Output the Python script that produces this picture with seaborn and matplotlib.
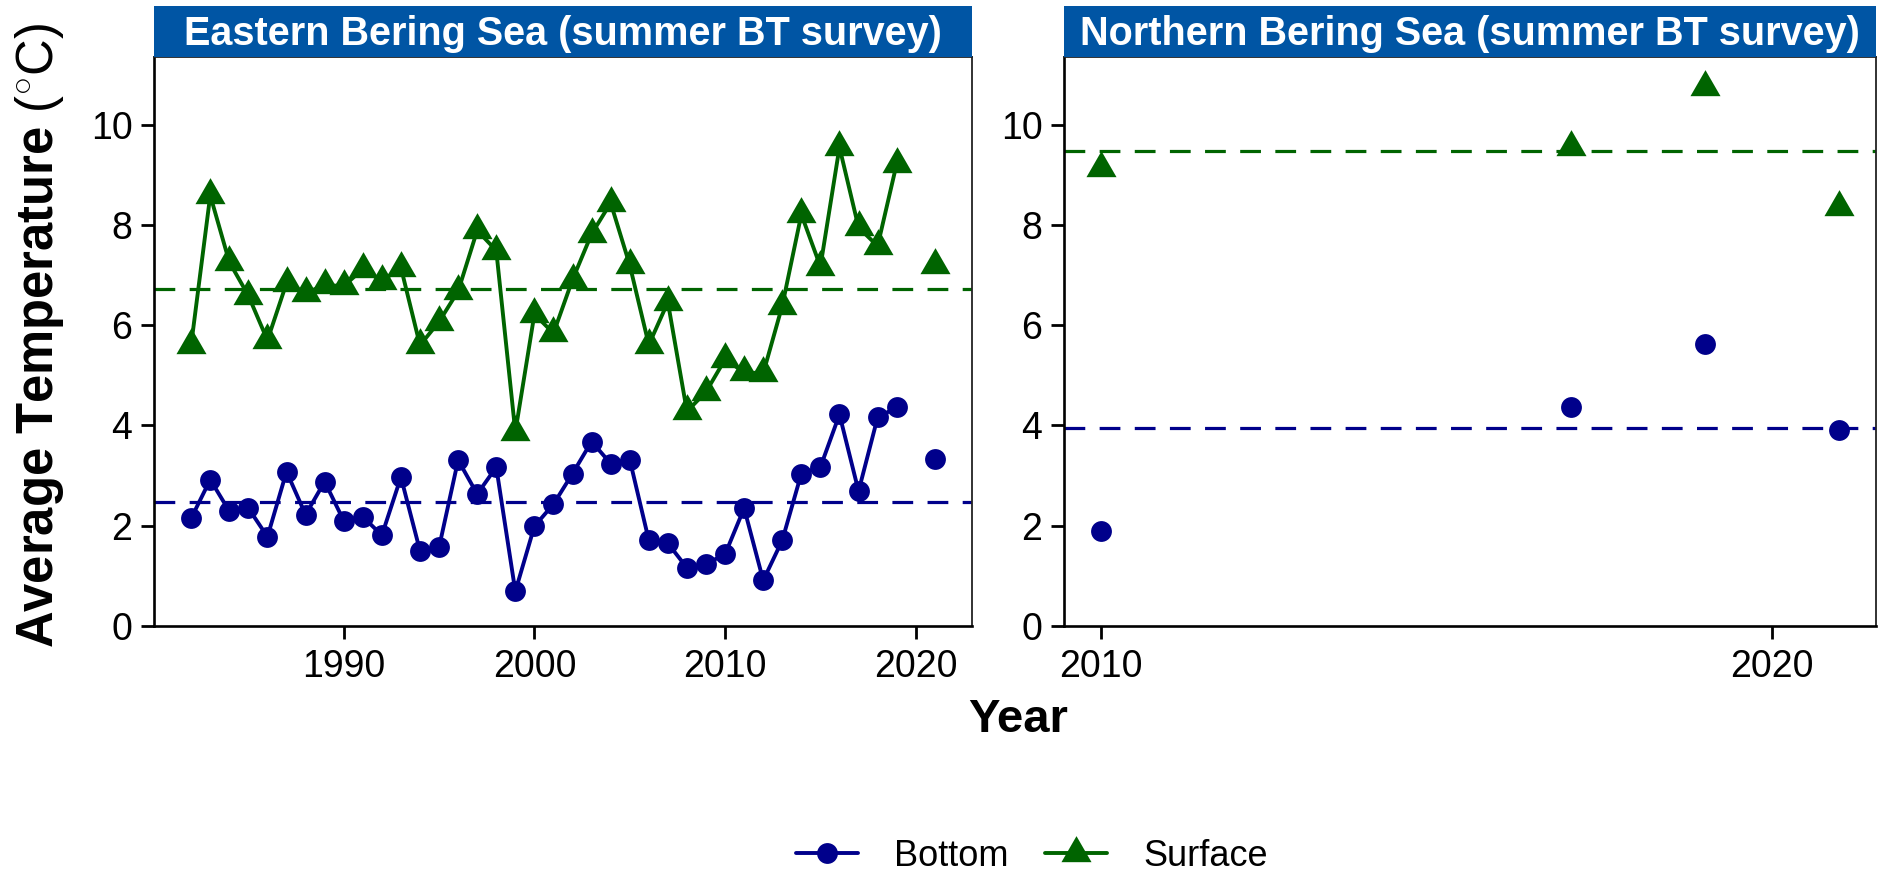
import numpy as np
import pandas as pd
import matplotlib
matplotlib.use("Agg")
import matplotlib.pyplot as plt
from matplotlib.lines import Line2D
import seaborn as sns

# ---------------- data ----------------
ebs_years = [1982, 1983, 1984, 1985, 1986, 1987, 1988, 1989, 1990, 1991,
             1992, 1993, 1994, 1995, 1996, 1997, 1998, 1999, 2000, 2001,
             2002, 2003, 2004, 2005, 2006, 2007, 2008, 2009, 2010, 2011,
             2012, 2013, 2014, 2015, 2016, 2017, 2018, 2019]
ebs_bottom = [2.15, 2.92, 2.29, 2.35, 1.78, 3.08, 2.22, 2.88, 2.10, 2.18,
              1.81, 2.97, 1.50, 1.57, 3.31, 2.63, 3.17, 0.69, 1.99, 2.43,
              3.04, 3.68, 3.24, 3.32, 1.71, 1.65, 1.16, 1.24, 1.43, 2.35,
              0.91, 1.71, 3.04, 3.17, 4.22, 2.69, 4.16, 4.36]
ebs_surface = [5.61, 8.59, 7.26, 6.59, 5.70, 6.84, 6.64, 6.80, 6.78, 7.12,
               6.88, 7.15, 5.60, 6.07, 6.68, 7.89, 7.49, 3.87, 6.22, 5.84,
               6.91, 7.82, 8.44, 7.20, 5.61, 6.46, 4.28, 4.67, 5.32, 5.06,
               5.04, 6.39, 8.21, 7.17, 9.55, 7.95, 7.58, 9.22]
# isolated point after the 2020 gap
ebs_extra_year = [2021]
ebs_extra_bottom = [3.33]
ebs_extra_surface = [7.20]
ebs_means = {"Bottom": 2.47, "Surface": 6.73}

nbs_years = [2010, 2017, 2019, 2021]
nbs_bottom = [1.89, 4.36, 5.62, 3.90]
nbs_surface = [9.14, 9.55, 10.75, 8.35]
nbs_means = {"Bottom": 3.95, "Surface": 9.47}

panel_titles = ["Eastern Bering Sea (summer BT survey)",
                "Northern Bering Sea (summer BT survey)"]
series_names = ["Bottom", "Surface"]
y_ticks = [0, 2, 4, 6, 8, 10]
ebs_xticks = [1990, 2000, 2010, 2020]
nbs_xticks = [2010, 2020]

# ---------------- style ----------------
sns.set_style("white")
plt.rcParams["font.family"] = ["Liberation Sans", "DejaVu Sans"]
plt.rcParams["mathtext.fontset"] = "custom"
plt.rcParams["mathtext.rm"] = "Liberation Sans"
plt.rcParams["mathtext.it"] = "Liberation Sans:italic"
plt.rcParams["mathtext.bf"] = "Liberation Sans:bold"
plt.rcParams["text.color"] = "black"
plt.rcParams["axes.labelcolor"] = "black"
plt.rcParams["xtick.color"] = "black"
plt.rcParams["ytick.color"] = "black"

colors = {"Bottom": "#00008B", "Surface": "#006400"}
markers = {"Bottom": "o", "Surface": (3, 0, 0)}
msizes = {"Bottom": 15, "Surface": 25}
LW = 2.8
strip_color = "#0055A4"
W, H = 1879, 874
TICK_FS = 27

fig = plt.figure(figsize=(W / 100, H / 100), dpi=100)

ax_top, ax_bot = 57, 626
panels = [
    dict(x0=154, x1=972, xlim=(1980.05, 2022.95), xticks=ebs_xticks),
    dict(x0=1064, x1=1876, xlim=(2009.45, 2021.55), xticks=nbs_xticks),
]
axes = []
for p in panels:
    ax = fig.add_axes([p["x0"] / W, 1 - ax_bot / H,
                       (p["x1"] - p["x0"]) / W, (ax_bot - ax_top) / H])
    axes.append(ax)

ax1, ax2 = axes

ebs_df = pd.DataFrame({"Year": ebs_years * 2,
                       "Temp": ebs_bottom + ebs_surface,
                       "Series": ["Bottom"] * len(ebs_years) + ["Surface"] * len(ebs_years)})
ebs_extra = pd.DataFrame({"Year": ebs_extra_year * 2,
                          "Temp": ebs_extra_bottom + ebs_extra_surface,
                          "Series": ["Bottom", "Surface"]})
nbs_df = pd.DataFrame({"Year": nbs_years * 2,
                       "Temp": nbs_bottom + nbs_surface,
                       "Series": ["Bottom"] * len(nbs_years) + ["Surface"] * len(nbs_years)})

dash = (0, (6.5, 4.5))
for ax, means in [(ax1, ebs_means), (ax2, nbs_means)]:
    for s in series_names:
        ax.axhline(means[s], color=colors[s], lw=2.3, ls=dash, zorder=1)

for s in series_names:
    sub = ebs_df[ebs_df.Series == s]
    sns.lineplot(data=sub, x="Year", y="Temp", ax=ax1, color=colors[s],
                 linewidth=LW, marker=markers[s], markersize=msizes[s],
                 markeredgewidth=0, legend=False, zorder=3)
    sub2 = ebs_extra[ebs_extra.Series == s]
    ax1.plot(sub2.Year, sub2.Temp, ls="none", marker=markers[s],
             markersize=msizes[s], color=colors[s], markeredgewidth=0, zorder=3)
    sub3 = nbs_df[nbs_df.Series == s]
    ax2.plot(sub3.Year, sub3.Temp, ls="none", marker=markers[s],
             markersize=msizes[s], color=colors[s], markeredgewidth=0, zorder=3)

for ax, p in zip(axes, panels):
    ax.set_xlim(*p["xlim"])
    ax.set_ylim(0, 11.35)
    ax.set_xticks(p["xticks"])
    ax.set_xticklabels([str(t) for t in p["xticks"]])
    ax.set_yticks(y_ticks)
    ax.set_yticklabels([str(t) for t in y_ticks])
    ax.set_xlabel("")
    ax.set_ylabel("")
    ax.tick_params(axis="both", which="major", direction="out", length=9.5,
                   width=2.0, color="black", labelsize=TICK_FS, labelcolor="black",
                   bottom=True, left=True, top=False, right=False)
    ax.tick_params(axis="x", pad=7)
    ax.tick_params(axis="y", pad=6)
    for side in ["left", "bottom"]:
        ax.spines[side].set_linewidth(1.9)
        ax.spines[side].set_color("black")
    for side in ["top", "right"]:
        ax.spines[side].set_linewidth(1.3)
        ax.spines[side].set_color("#222222")
        ax.spines[side].set_visible(True)
    ax.set_facecolor("white")
    ax.grid(False)

# strips
for p, title in zip(panels, panel_titles):
    sax = fig.add_axes([p["x0"] / W, 1 - ax_top / H, (p["x1"] - p["x0"]) / W, 51 / H])
    sax.set_facecolor(strip_color)
    sax.set_xticks([])
    sax.set_yticks([])
    for sp in sax.spines.values():
        sp.set_visible(False)
    sax.text(0.5, 0.45, title, transform=sax.transAxes, ha="center", va="center",
             color="white", fontsize=28.5, fontweight="bold")

# axis titles
fig.text(1018 / W, 1 - 732 / H, "Year", ha="center", va="baseline",
         fontsize=34, fontweight="bold")
fig.text(53 / W, 1 - 336 / H,
         r"Average Temperature $\mathrm{(^{\circ}C)}$",
         rotation=90, rotation_mode="anchor", ha="center", va="baseline",
         fontsize=36.5, fontweight="bold")

# legend
handles = [Line2D([0], [0], color=colors[s], lw=LW, marker=markers[s],
                  markersize=msizes[s], markeredgewidth=0) for s in series_names]
fig.legend(handles, series_names, loc="center", bbox_to_anchor=(1032 / W, 1 - 856 / H),
           ncol=2, frameon=False, fontsize=26, handlelength=1.72,
           handletextpad=1.0, columnspacing=1.0, borderpad=0.1)

fig.savefig("out.png", dpi=100, facecolor="white")
